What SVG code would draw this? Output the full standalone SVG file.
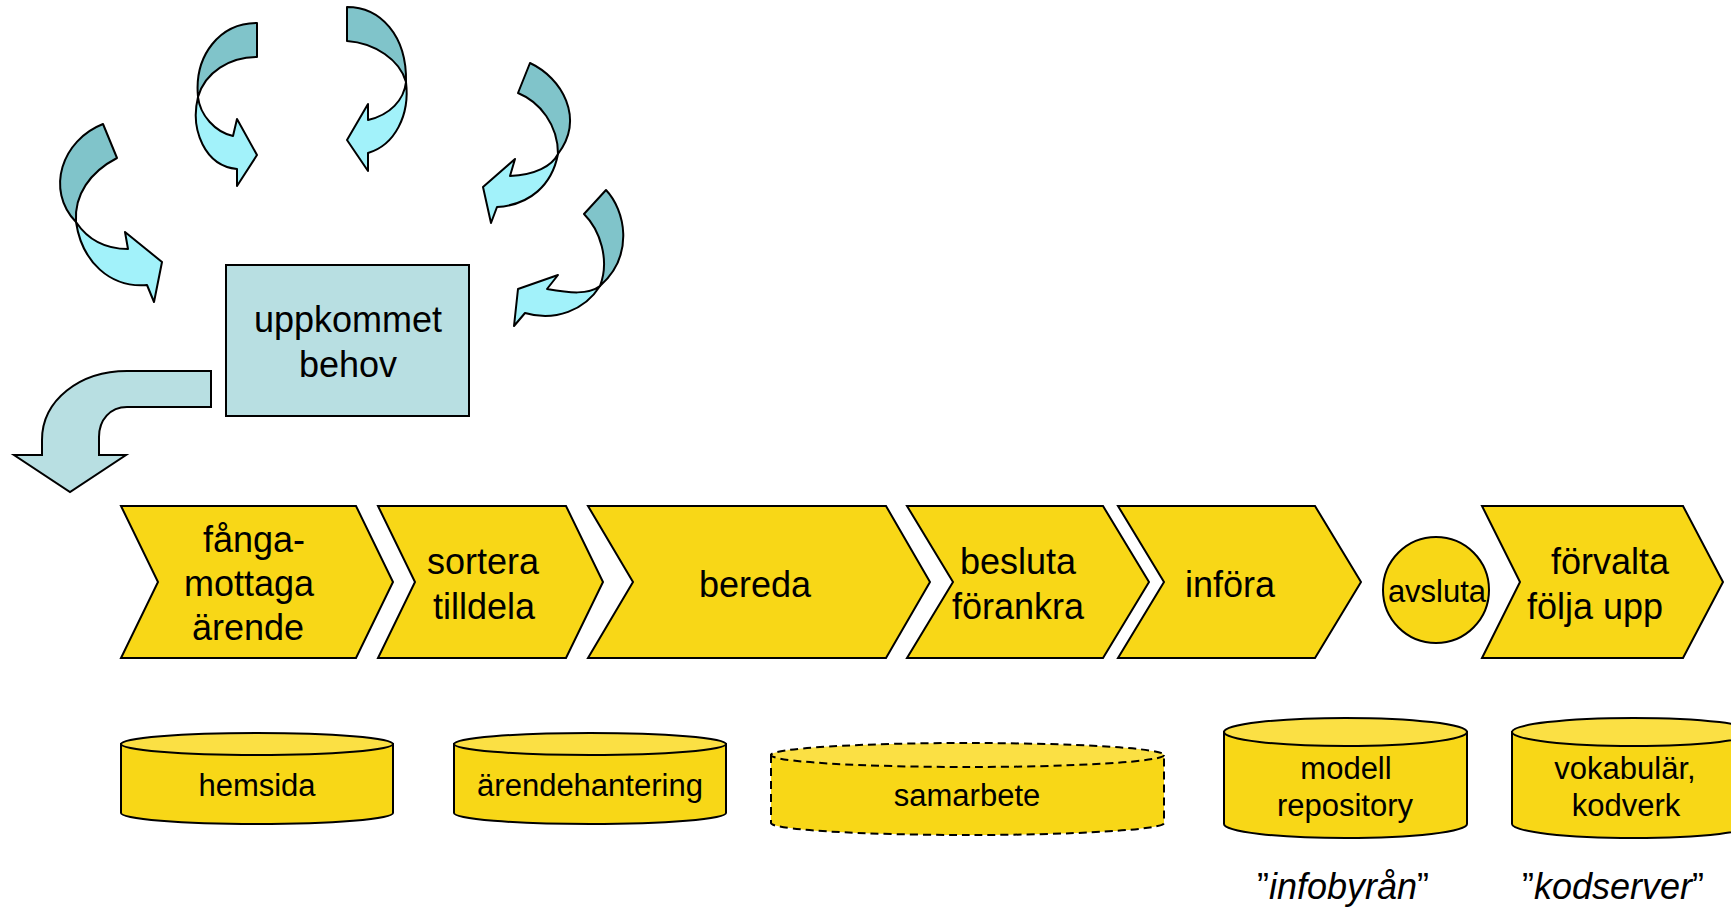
<svg xmlns="http://www.w3.org/2000/svg" width="1731" height="909" viewBox="0 0 1731 909">
<style>
.t{font-family:"Liberation Sans",Arial,sans-serif;font-size:36px;fill:#000;text-anchor:middle}
.s{font-size:31px}
.dk{fill:#80C4CA;stroke:#000;stroke-width:2;stroke-linejoin:round}
.lt{fill:#A2F2FA;stroke:#000;stroke-width:2;stroke-linejoin:round}
.box{fill:#B8DFE2;stroke:#000;stroke-width:2}
.chev{fill:#F8D717;stroke:#000;stroke-width:2;stroke-linejoin:miter}
.cb{fill:#F8D717;stroke:#000;stroke-width:2}
.ct{fill:#FBE044;stroke:#000;stroke-width:2}
.dash{stroke-dasharray:8 5}
</style>
<rect width="1731" height="909" fill="#fff"/>
<g id="cycle-arrows">
  <g id="arrow-a">
    <path class="dk" d="M103,124 L117,158 C90,172 74,195 76,222 C45,190 62,140 103,124 Z"/>
    <path class="lt" d="M76,222 C88,240 105,249 128,249 L125,232 L162,262 L154,302 L147,285 C110,288 82,262 76,222 Z"/>
  </g>
  <g id="arrow-b">
    <path class="dk" d="M257,23 L257,57 C230,57 205,72 198,97 C194,55 220,23 257,23 Z"/>
    <path class="lt" d="M198,97 C200,115 215,132 233,136 L237,119 L257,155 L237,186 L237,169 C205,166 190,130 198,97 Z"/>
  </g>
  <g id="arrow-c">
    <path class="dk" d="M347,7 L347,41 C375,43 400,60 406,82 C407,35 380,7 347,7 Z"/>
    <path class="lt" d="M406,82 C404,100 390,115 368,120 L368,104 L347,140 L368,171 L368,153 C395,145 410,115 406,82 Z"/>
  </g>
  <g id="arrow-d">
    <path class="dk" d="M530,63 L518,93 C540,102 558,125 558,154 C585,118 562,78 530,63 Z"/>
    <path class="lt" d="M558,154 C552,166 535,175 510,176 L515,159 L483,187 L491,223 L497,207 C530,205 552,185 558,154 Z"/>
  </g>
  <g id="arrow-e">
    <path class="dk" d="M606,190 L584,214 C600,230 610,260 600,286 C635,255 625,210 606,190 Z"/>
    <path class="lt" d="M600,286 C588,295 570,293 547,289 L558,275 L518,289 L514,326 L525,313 C555,322 585,310 600,286 Z"/>
  </g>
</g>
<g id="node-uppkommet-behov">
  <rect class="box" x="226" y="265" width="243" height="151"/>
  <text class="t" x="348" y="332">uppkommet</text>
  <text class="t" x="348" y="377">behov</text>
</g>
<g id="connectors">
  <path class="box" d="M211,371 L127,371 C80,371 42,400 42,440 L42,455 L14,455 L70,492 L126,455 L99,455 L99,437 C99,420 110,407 127,407 L211,407 Z"/>
</g>
<g id="node-fanga">
  <polygon class="chev" points="121,506 356,506 393,582 356,658 121,658 158,582"/>
  <text class="t" x="254" y="552">fånga-</text>
  <text class="t" x="249" y="596">mottaga</text>
  <text class="t" x="248" y="640">ärende</text>
</g>
<g id="node-sortera">
  <polygon class="chev" points="378,506 566,506 603,582 566,658 378,658 415,582"/>
  <text class="t" x="483" y="574">sortera</text>
  <text class="t" x="484" y="619">tilldela</text>
</g>
<g id="node-bereda">
  <polygon class="chev" points="588,506 886,506 930,582 886,658 588,658 633,582"/>
  <text class="t" x="755" y="597">bereda</text>
</g>
<g id="node-besluta">
  <polygon class="chev" points="907,506 1103,506 1149,582 1103,658 907,658 953,582"/>
  <text class="t" x="1018" y="574">besluta</text>
  <text class="t" x="1018" y="619">förankra</text>
</g>
<g id="node-infora">
  <polygon class="chev" points="1118,506 1315,506 1361,582 1315,658 1118,658 1164,582"/>
  <text class="t" x="1230" y="597">införa</text>
</g>
<g id="node-avsluta">
  <ellipse class="chev" cx="1436" cy="590" rx="53" ry="53"/>
  <text class="t s" x="1437" y="602">avsluta</text>
</g>
<g id="node-forvalta">
  <polygon class="chev" points="1482,506 1683,506 1723,582 1683,658 1482,658 1520,582"/>
  <text class="t" x="1610" y="574">förvalta</text>
  <text class="t" x="1595" y="619">följa upp</text>
</g>
<g id="node-hemsida">
  <path class="cb" d="M121,744 L121,813 A136,11 0 0 0 393,813 L393,744 Z"/>
  <ellipse class="ct" cx="257" cy="744" rx="136" ry="11"/>
  <text class="t s" x="257" y="796">hemsida</text>
</g>
<g id="node-arendehantering">
  <path class="cb" d="M454,744 L454,813 A136,11 0 0 0 726,813 L726,744 Z"/>
  <ellipse class="ct" cx="590" cy="744" rx="136" ry="11"/>
  <text class="t s" x="590" y="796">ärendehantering</text>
</g>
<g id="node-samarbete">
  <path class="cb dash" d="M771,755 L771,823 A196.5,12 0 0 0 1164,823 L1164,755 Z"/>
  <ellipse class="ct dash" cx="967.5" cy="755" rx="196.5" ry="12"/>
  <text class="t s" x="967" y="806">samarbete</text>
</g>
<g id="node-modell">
  <path class="cb" d="M1224,732 L1224,824 A121.5,14 0 0 0 1467,824 L1467,732 Z"/>
  <ellipse class="ct" cx="1345.5" cy="732" rx="121.5" ry="14"/>
  <text class="t s" x="1346" y="779">modell</text>
  <text class="t s" x="1345" y="816">repository</text>
</g>
<g id="node-vokabular">
  <path class="cb" d="M1512,732 L1512,824 A121.5,14 0 0 0 1755,824 L1755,732 Z"/>
  <ellipse class="ct" cx="1633.5" cy="732" rx="121.5" ry="14"/>
  <text class="t s" x="1625" y="779">vokabulär,</text>
  <text class="t s" x="1626" y="816">kodverk</text>
</g>
<g id="labels">
  <text class="t" x="1343" y="899">”<tspan font-style="italic">infobyrån</tspan>”</text>
  <text class="t" x="1613" y="899">”<tspan font-style="italic">kodserver</tspan>”</text>
</g>
</svg>
